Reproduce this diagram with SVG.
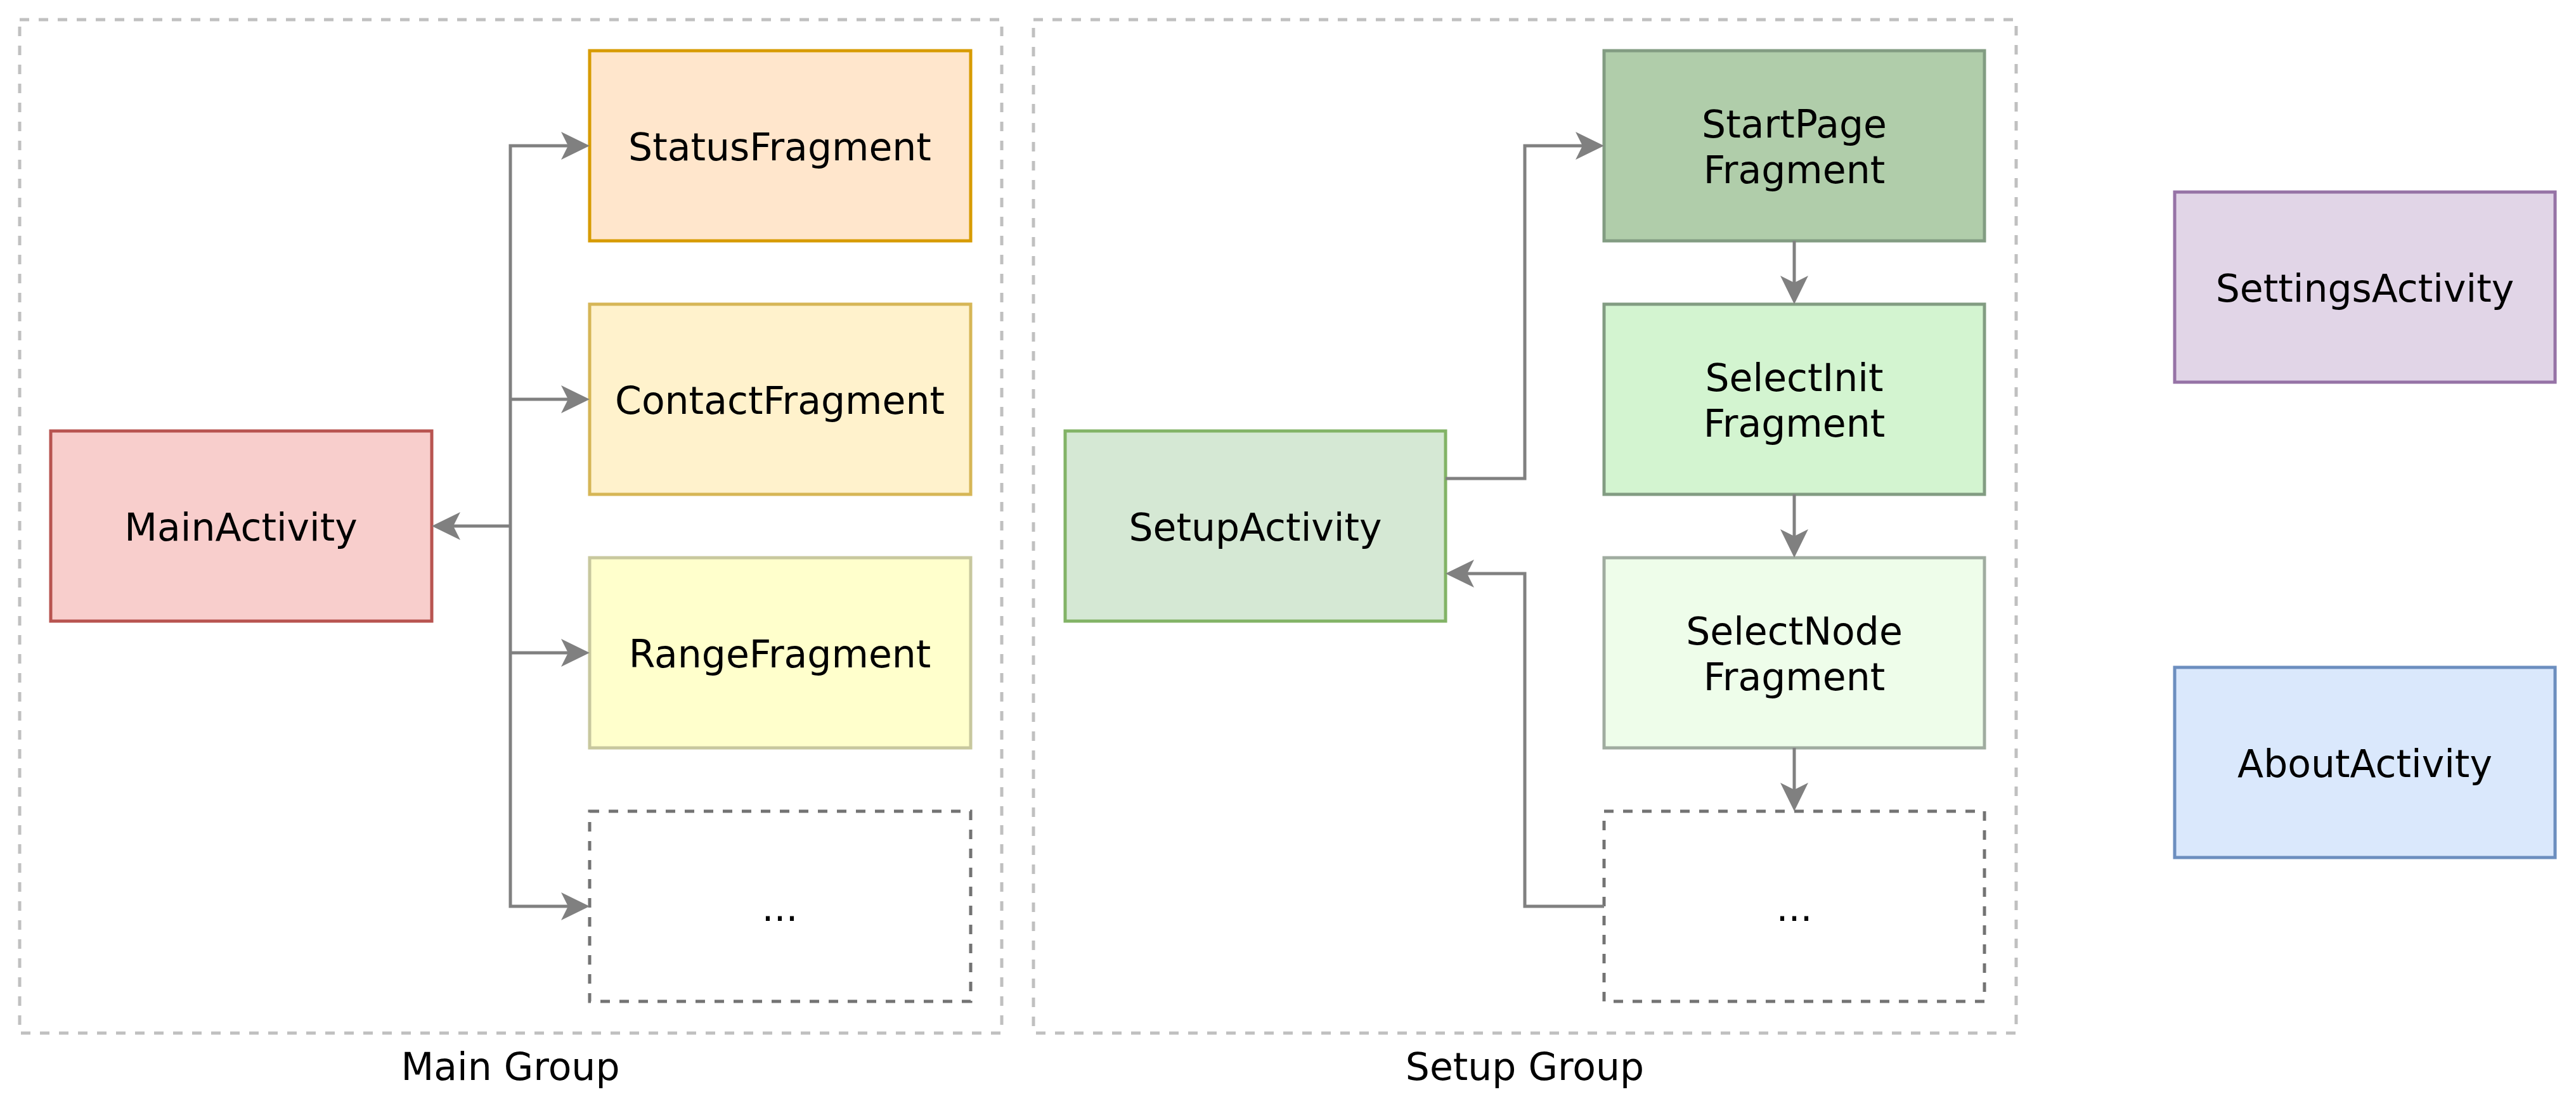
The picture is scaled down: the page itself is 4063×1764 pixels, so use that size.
<svg xmlns="http://www.w3.org/2000/svg" width="4063" height="1764" viewBox="0 0 4063 1764">
<style>
text{font-family:"DejaVu Sans","Liberation Sans",sans-serif;font-size:60px;fill:#000;text-anchor:middle}
.grp{fill:none;stroke:#c0c0c0;stroke-width:5;stroke-dasharray:15 15}
.box{stroke-width:5}
.dash{fill:#fff;stroke:#737373;stroke-width:5;stroke-dasharray:15 15}
.conn path{fill:none;stroke:#808080;stroke-width:5;marker-end:url(#arr)}
</style>
<defs>
<marker id="arr" markerUnits="userSpaceOnUse" viewBox="-50 -25 50 50" markerWidth="50" markerHeight="50" refX="-30" refY="0" orient="auto">
<path d="M0,0 L-45,-22 L-34,0 L-45,22 Z" fill="#808080"/>
</marker>
</defs>
<rect width="4063" height="1764" fill="#fff"/>
<g id="main-group">
<rect class="grp" x="31" y="31" width="1549" height="1599"/>
<text x="805" y="1704">Main Group</text>
</g>
<g id="setup-group">
<rect class="grp" x="1630" y="31" width="1550" height="1599"/>
<text x="2405" y="1704">Setup Group</text>
</g>
<g id="MainActivity">
<rect class="box" x="80" y="680" width="601" height="300" fill="#f8cecc" stroke="#b85450"/>
<text x="380" y="853">MainActivity</text>
</g>
<g id="StatusFragment">
<rect class="box" x="930" y="80" width="601" height="300" fill="#ffe6cc" stroke="#d79b00"/>
<text x="1230" y="253">StatusFragment</text>
</g>
<g id="ContactFragment">
<rect class="box" x="930" y="480" width="601" height="300" fill="#fff2cc" stroke="#d6b656"/>
<text x="1230" y="653">ContactFragment</text>
</g>
<g id="RangeFragment">
<rect class="box" x="930" y="880" width="601" height="300" fill="#ffffcc" stroke="#c8c89e"/>
<text x="1230" y="1053">RangeFragment</text>
</g>
<g id="MainMore">
<rect class="dash" x="930" y="1280" width="601" height="300"/>
<text x="1230" y="1453">...</text>
</g>
<g id="SetupActivity">
<rect class="box" x="1680" y="680" width="600" height="300" fill="#d5e8d4" stroke="#82b366"/>
<text x="1980" y="853">SetupActivity</text>
</g>
<g id="StartPageFragment">
<rect class="box" x="2530" y="80" width="600" height="300" fill="#b0cdaa" stroke="#829c82"/>
<text x="2830" y="217">StartPage</text>
<text x="2830" y="289">Fragment</text>
</g>
<g id="SelectInitFragment">
<rect class="box" x="2530" y="480" width="600" height="300" fill="#d3f4d0" stroke="#829c82"/>
<text x="2830" y="617">SelectInit</text>
<text x="2830" y="689">Fragment</text>
</g>
<g id="SelectNodeFragment">
<rect class="box" x="2530" y="880" width="600" height="300" fill="#eefdea" stroke="#a0aca0"/>
<text x="2830" y="1017">SelectNode</text>
<text x="2830" y="1089">Fragment</text>
</g>
<g id="SetupMore">
<rect class="dash" x="2530" y="1280" width="600" height="300"/>
<text x="2830" y="1453">...</text>
</g>
<g id="SettingsActivity">
<rect class="box" x="3430" y="303" width="600" height="300" fill="#e1d5e7" stroke="#9673a6"/>
<text x="3730" y="476">SettingsActivity</text>
</g>
<g id="AboutActivity">
<rect class="box" x="3430" y="1053" width="600" height="300" fill="#dae8fc" stroke="#6c8ebf"/>
<text x="3730" y="1226">AboutActivity</text>
</g>
<g id="connectors" class="conn">
<path d="M805,830 H711"/>
<path d="M805,830 V230 H900"/>
<path d="M805,630 H900"/>
<path d="M805,1030 H900"/>
<path d="M805,830 V1430 H900"/>
<path d="M2280,755 H2405 V230 H2500"/>
<path d="M2530,1430 H2405 V905 H2310"/>
<path d="M2830,380 V450"/>
<path d="M2830,780 V850"/>
<path d="M2830,1180 V1250"/>
</g>
</svg>
